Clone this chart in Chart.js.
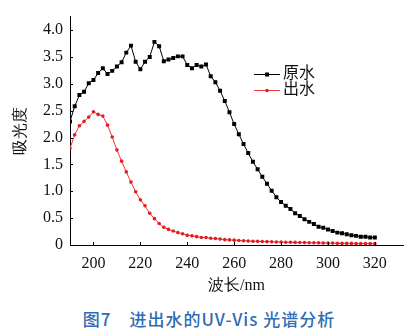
<!DOCTYPE html>
<html>
<head>
<meta charset="utf-8">
<script src="https://cdn.jsdelivr.net/npm/chart.js@4.4.1/dist/chart.umd.min.js"></script>
<style>
  body { margin: 0; background: #fff; }
  #box { position: relative; width: 418px; height: 334px; }
  #caption {
    position: absolute; left: 0; top: 308px; width: 418px;
    text-align: center; line-height: 22px;
    font-family: "Noto Sans CJK SC", "Noto Sans", sans-serif;
    font-size: 17px; font-weight: 500; letter-spacing: 1px;
    color: #2f6cb3;
  }
</style>
</head>
<body>
<div id="box">
  <canvas id="grafico" width="418" height="300"></canvas>
  <div id="caption">图7　进出水的UV-Vis 光谱分析</div>
</div>
<script>
// comprimento de onda (nm)
const ondas = [190, 192, 194, 196, 198, 200, 202, 204, 206, 208,
               210, 212, 214, 216, 218, 220, 222, 224, 226, 228,
               230, 232, 234, 236, 238, 240, 242, 244, 246, 248,
               250, 252, 254, 256, 258, 260, 262, 264, 266, 268,
               270, 272, 274, 276, 278, 280, 282, 284, 286, 288,
               290, 292, 294, 296, 298, 300, 302, 304, 306, 308,
               310, 312, 314, 316, 318, 320]

// 原水 (entrada)
const aguaBruta = [2.30, 2.58, 2.79, 2.85, 3.01, 3.07, 3.20, 3.29, 3.18, 3.24,
                   3.32, 3.40, 3.58, 3.71, 3.41, 3.27, 3.41, 3.50, 3.78, 3.70,
                   3.42, 3.45, 3.48, 3.51, 3.51, 3.35, 3.29, 3.35, 3.32, 3.36,
                   3.14, 3.03, 2.87, 2.68, 2.47, 2.25, 2.06, 1.88, 1.71, 1.55,
                   1.41, 1.27, 1.14, 1.01, 0.89, 0.80, 0.73, 0.67, 0.59, 0.54,
                   0.48, 0.43, 0.39, 0.34, 0.32, 0.29, 0.26, 0.23, 0.22, 0.20,
                   0.18, 0.17, 0.155, 0.155, 0.14, 0.14]

// 出水 (saida)
const aguaTratada = [1.80, 2.05, 2.22, 2.30, 2.38, 2.48, 2.43, 2.40, 2.23, 2.01,
                     1.77, 1.56, 1.36, 1.17, 0.99, 0.84, 0.73, 0.59, 0.49, 0.40,
                     0.33, 0.29, 0.26, 0.23, 0.21, 0.18, 0.17, 0.155, 0.14, 0.14,
                     0.125, 0.12, 0.11, 0.10, 0.095, 0.09, 0.085, 0.08, 0.075, 0.07,
                     0.068, 0.065, 0.062, 0.06, 0.057, 0.055, 0.052, 0.05, 0.048, 0.046,
                     0.045, 0.043, 0.041, 0.04, 0.038, 0.036, 0.035, 0.033, 0.032, 0.031,
                     0.03, 0.029, 0.028, 0.027, 0.026, 0.025]

const nomes = ['原水', '出水']

Chart.defaults.font.family = 'Liberation Serif'
Chart.defaults.font.size = 16
Chart.defaults.color = '#111'

function pares(vals) {
    return vals.map((v, i) => ({ x: ondas[i], y: v }))
}

// marcas de escala para dentro
const marcasInternas = {
    id: 'marcasInternas',
    afterDraw(chart) {
        const ctx = chart.ctx
        const x = chart.scales.x, y = chart.scales.y
        ctx.save()
        ctx.strokeStyle = '#000'
        ctx.lineWidth = 1
        ctx.beginPath()
        x.ticks.forEach(t => {
            const px = Math.round(x.getPixelForValue(t.value)) + 0.5
            ctx.moveTo(px, x.top)
            ctx.lineTo(px, x.top - 3)
        })
        y.ticks.forEach(t => {
            const py = Math.round(y.getPixelForValue(t.value)) + 0.5
            ctx.moveTo(y.right, py)
            ctx.lineTo(y.right + 3, py)
        })
        ctx.stroke()
        ctx.restore()
    }
}

// legenda dentro da area do grafico
const legendaInterna = {
    id: 'legendaInterna',
    afterDraw(chart) {
        const ctx = chart.ctx
        const x0 = 254, x1 = 280, yy = [74, 90]
        ctx.save()
        chart.data.datasets.forEach((ds, i) => {
            const y = yy[i]
            ctx.strokeStyle = ds.borderColor
            ctx.lineWidth = 1
            ctx.beginPath()
            ctx.moveTo(x0, y + 0.5)
            ctx.lineTo(x1, y + 0.5)
            ctx.stroke()
            ctx.fillStyle = ds.pointBackgroundColor
            if (ds.pointStyle === 'rect') {
                ctx.fillRect(265, y - 1.5, 4, 4)
            } else {
                ctx.beginPath()
                ctx.arc(267, y + 0.5, 1.8, 0, Math.PI * 2)
                ctx.fill()
            }
            ctx.fillStyle = '#111'
            ctx.font = '16px Liberation Serif, Noto Sans CJK SC'
            ctx.textBaseline = 'middle'
            ctx.fillText(ds.label, 283, y)
        })
        ctx.restore()
    }
}

let ctx = document.getElementById('grafico').getContext('2d')

const config = {
    type: 'line',
    data: {
        datasets: [{
            label: nomes[0],
            data: pares(aguaBruta),
            borderColor: '#000',
            borderWidth: 1,
            pointStyle: 'rect',
            pointRadius: 2.8,
            pointBorderWidth: 0,
            pointBackgroundColor: '#000',
            tension: 0
        }, {
            label: nomes[1],
            data: pares(aguaTratada),
            borderColor: '#e8383a',
            borderWidth: 1,
            pointStyle: 'circle',
            pointRadius: 1.8,
            pointBorderWidth: 0,
            pointBackgroundColor: '#e01f25',
            tension: 0
        }]
    },
    options: {
        responsive: false,
        animation: false,
        layout: { padding: { left: 0, right: 15, top: 7, bottom: 0 } },
        plugins: {
            legend: { display: false },
            tooltip: { enabled: false }
        },
        scales: {
            x: {
                type: 'linear',
                min: 190,
                max: 332,
                grid: { display: false, drawTicks: false, tickLength: 0 },
                border: { display: true, color: '#000', width: 1 },
                ticks: { stepSize: 20, includeBounds: false, padding: 9, maxRotation: 0 },
                title: { display: true, text: '波长/nm', padding: { top: 0, bottom: 5 } },
                afterFit(scale) { scale.height = 55 }
            },
            y: {
                min: 0,
                max: 4.25,
                grid: { display: false, drawTicks: false, tickLength: 0 },
                border: { display: true, color: '#000', width: 1 },
                ticks: {
                    stepSize: 0.5, includeBounds: false, padding: 7,
                    callback: v => v === 0 ? '0' : v.toFixed(1)
                },
                title: { display: true, text: '吸光度', padding: { top: 11, bottom: 0 } },
                afterFit(scale) { scale.width = 70 }
            }
        }
    },
    plugins: [marcasInternas, legendaInterna]
}

let grafico = new Chart(ctx, config)
</script>
</body>
</html>
